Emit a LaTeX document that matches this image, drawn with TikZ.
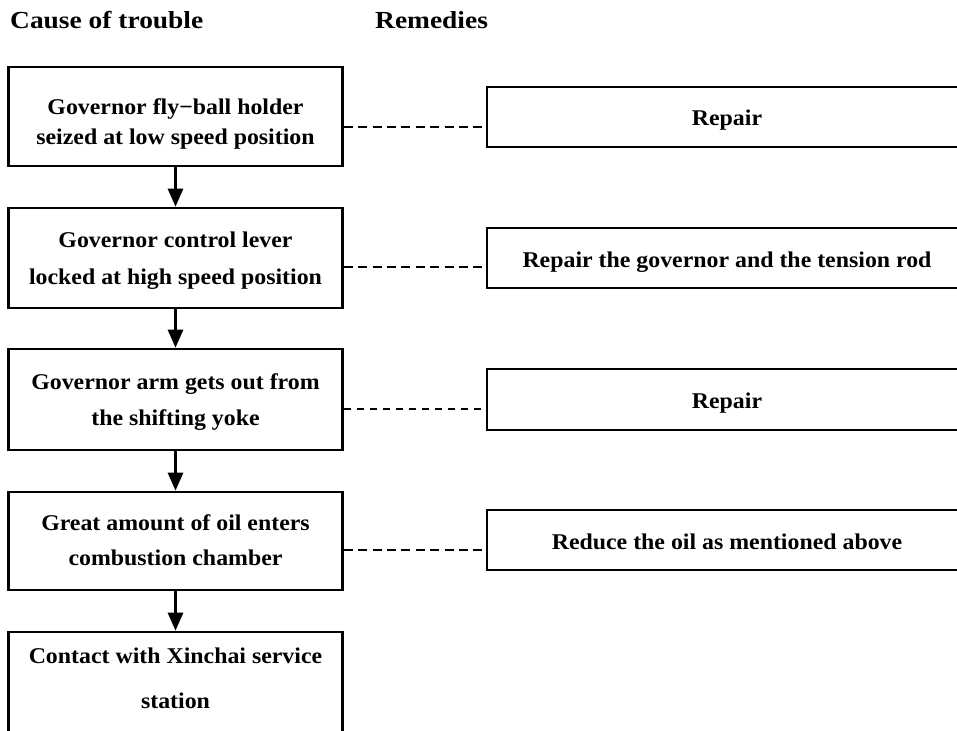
\documentclass[tikz,border=0pt]{standalone}
\usepackage{fontspec}
\setmainfont[FakeStretch=1.06]{Liberation Serif}
\newfontfamily\hdfont[FakeStretch=1.12]{Liberation Serif}
\usetikzlibrary{arrows.meta}
\tikzset{
  cbox/.style={draw, line width=2.6pt, minimum width=334pt, inner sep=0pt},
  rbox/.style={draw, line width=2.3pt, minimum width=480pt, minimum height=60pt, inner sep=0pt,
    font=\bfseries\fontsize{22.5}{27}\selectfont, text height=18pt, text depth=0pt},
  ctext/.style={inner sep=0pt, anchor=base, font=\bfseries\fontsize{22.5}{27}\selectfont},
  hd/.style={inner sep=0pt, anchor=base west, font=\hdfont\bfseries\fontsize{24.5}{29}\selectfont},
  arr/.style={line width=2.8pt, -{Triangle[length=18pt,width=15pt]}},
  dshthick/.style={line width=2.8pt, dash pattern=on 9pt off 5.4pt},
  dshthin/.style={line width=1.6pt, dash pattern=on 7pt off 6pt}
}
\begin{document}
\begin{tikzpicture}[x=1pt,y=-1pt]
\useasboundingbox (0,0) rectangle (957,730);
\clip (0,0) rectangle (957,730);
% headers
\node[hd] (h1) at (10,28.3) {Cause of trouble};
\node[hd] (h2) at (375,28.3) {Remedies};
% cause boxes
\node[cbox, minimum height=99pt] (c1) at (175.5,116.5) {};
\node[cbox, minimum height=100pt] (c2) at (175.5,258) {};
\node[cbox, minimum height=101pt] (c3) at (175.5,399.5) {};
\node[cbox, minimum height=98pt] (c4) at (175.5,541) {};
\node[cbox, minimum height=128pt] (c5) at (175.5,696) {};
\node[ctext] (c1a) at (175.5,115) {Governor fly−ball holder};
\node[ctext] (c1b) at (175.5,145) {seized at low speed position};
\node[ctext] (c2a) at (175.5,247) {Governor control lever};
\node[ctext] (c2b) at (175.5,284) {locked at high speed position};
\node[ctext] (c3a) at (175.5,389) {Governor arm gets out from};
\node[ctext] (c3b) at (175.5,425) {the shifting yoke};
\node[ctext] (c4a) at (175.5,530.5) {Great amount of oil enters};
\node[ctext] (c4b) at (175.5,565) {combustion chamber};
\node[ctext] (c5a) at (175.5,663) {Contact with Xinchai service};
\node[ctext] (c5b) at (175.5,708) {station};
% remedy boxes
\node[rbox] (r1) at (727,117) {Repair};
\node[rbox] (r2) at (727,258) {Repair the governor and the tension rod};
\node[rbox, minimum height=61pt] (r3) at (727,399.5) {Repair};
\node[rbox] (r4) at (727,540) {Reduce the oil as mentioned above};
% arrows
\draw[arr] (c1.south) -- (c2.north);
\draw[arr] (c2.south) -- (c3.north);
\draw[arr] (c3.south) -- (c4.north);
\draw[arr] (c4.south) -- (c5.north);
% dashed links
\coordinate (d1) at (0,127);
\coordinate (d2) at (0,267);
\coordinate (d3) at (0,409);
\coordinate (d4) at (0,550);
\draw[dshthick] (c1.east |- d1) -- (r1.west |- d1);
\draw[dshthick] (c2.east |- d2) -- (r2.west |- d2);
\draw[dshthin] (c3.east |- d3) -- (r3.west |- d3);
\draw[dshthick] (c4.east |- d4) -- (r4.west |- d4);
\end{tikzpicture}
\end{document}
